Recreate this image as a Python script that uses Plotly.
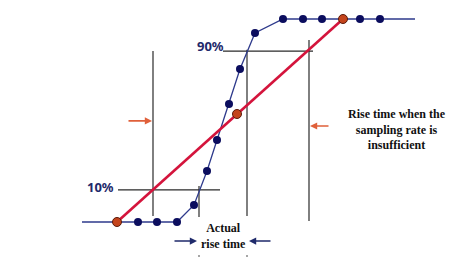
import plotly.graph_objects as go

# --- data (time in sample units, amplitude in %) ---
wave_t = [-1.75, 0.0, 1.05, 2.0, 3.0, 3.85, 4.5, 5.0, 5.6, 6.15, 6.9, 8.3, 9.3, 10.25, 11.3, 12.15, 13.15, 14.9]
wave_a = [0, 0, 0, 0, 0, 8.4, 25.1, 40.4, 58.1, 75.4, 93.1, 100, 100, 100, 100, 100, 100, 100]
marker_mask = [False] + [True] * 16 + [False]

slow_t = [0.0, 6.0, 11.3]
slow_a = [0, 53.2, 100]

level_names = ["10%", "90%"]
level_a = [15.8, 84.2]
level_t0 = [0.05, 5.3]
level_t1 = [5.15, 9.8]
label_t = [-0.05, 5.45]
label_a = [17.2, 86.7]

vline_t = [1.8, 4.1, 6.5, 9.6]
vline_a0 = [3.0, 2.5, 3.0, 0.5]
vline_a1 = [84.2, 17.7, 84.8, 89.7]

fig = go.Figure()

# reference lines
for t, a0, a1 in zip(vline_t, vline_a0, vline_a1):
    fig.add_trace(go.Scatter(x=[t, t], y=[a0, a1], mode="lines",
                             line=dict(color="#2a2a2a", width=1.2), hoverinfo="skip"))
for a, t0, t1 in zip(level_a, level_t0, level_t1):
    fig.add_trace(go.Scatter(x=[t0, t1], y=[a, a], mode="lines",
                             line=dict(color="#2a2a2a", width=1.2), hoverinfo="skip"))

# actual waveform line
fig.add_trace(go.Scatter(x=wave_t, y=wave_a, mode="lines",
                         line=dict(color="#2e3a8c", width=1.3), hoverinfo="skip"))
# sample markers
mt = [t for t, m in zip(wave_t, marker_mask) if m]
ma = [a for a, m in zip(wave_a, marker_mask) if m]
fig.add_trace(go.Scatter(x=mt, y=ma, mode="markers",
                         marker=dict(color="#0b0d5e", size=8, line=dict(width=0)), hoverinfo="skip"))

# undersampled line
fig.add_trace(go.Scatter(x=slow_t, y=slow_a, mode="lines",
                         line=dict(color="#d4143c", width=2.6), hoverinfo="skip"))
fig.add_trace(go.Scatter(x=slow_t, y=slow_a, mode="markers",
                         marker=dict(color="#c4441c", size=9, line=dict(color="#5a1a0a", width=1)),
                         hoverinfo="skip"))

# tick specks
fig.add_trace(go.Scatter(x=[4.1, 6.5], y=[-16.7, -16.7], mode="markers",
                         marker=dict(color="#888888", size=2), hoverinfo="skip"))

# level labels
for name, t, a in zip(level_names, label_t, label_a):
    fig.add_annotation(x=t, y=a, text="<b>" + name + "</b>", showarrow=False,
                       xanchor="right", yanchor="middle",
                       font=dict(family="Noto Sans", size=13, color="#1f2a6b"))

# arrows
arrows = [
    dict(t0=0.5, t1=1.75, a=49.8, color="#e0603a"),
    dict(t0=10.65, t1=9.65, a=47.3, color="#e0603a"),
    dict(t0=2.8, t1=4.0, a=-9.4, color="#1f2a6b"),
    dict(t0=7.75, t1=6.6, a=-9.4, color="#1f2a6b"),
]
for ar in arrows:
    fig.add_annotation(x=ar["t1"], y=ar["a"], ax=ar["t0"], ay=ar["a"], axref="x", ayref="y",
                       xref="x", yref="y", text="", showarrow=True, arrowhead=2,
                       arrowsize=0.9, arrowwidth=1.6, arrowcolor=ar["color"])

fig.add_annotation(x=5.3, y=-6.9, text="<b>Actual<br>rise time</b>", showarrow=False,
                   font=dict(family="Liberation Serif", size=12, color="#111111"),
                   xanchor="center", yanchor="middle")
fig.add_annotation(x=14.0, y=45.8, text="<b>Rise time when the<br>sampling rate is<br>insufficient</b>",
                   showarrow=False, font=dict(family="Liberation Serif", size=12, color="#111111"),
                   xanchor="center", yanchor="middle")

fig.update_layout(width=474, height=270, autosize=False,
                  margin=dict(l=0, r=0, t=0, b=0),
                  paper_bgcolor="white", plot_bgcolor="white", showlegend=False)
fig.update_xaxes(range=[-5.85, 17.85], visible=False, fixedrange=True)
fig.update_yaxes(range=[-23.65, 109.36], visible=False, fixedrange=True)

fig.write_html("out.html", config={"displayModeBar": False})
